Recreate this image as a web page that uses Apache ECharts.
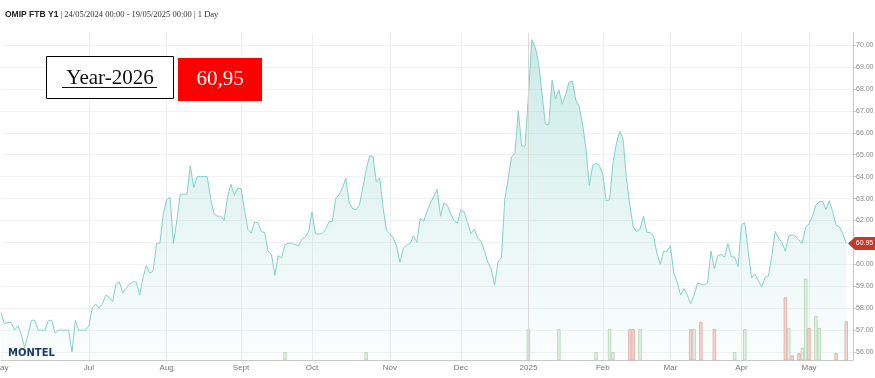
<!DOCTYPE html>
<html><head><meta charset="utf-8">
<script src="https://cdn.jsdelivr.net/npm/echarts@6/dist/echarts.min.js"></script>
<style>html,body{margin:0;padding:0;background:#fff}#c{width:875px;height:378px}</style>
</head><body><div id="c"></div>
<script>
// ---------- data ----------
const startDay = '2024-05-24';
const endDay = '2025-05-19';
const holidays = ['2024-12-25','2024-12-26','2025-01-01','2025-04-18','2025-04-21','2025-05-01'];

const prices = [
57.8,57.3,57.35,57.35,57.0,57.2,56.8,56.2,56.8,57.45,
57.45,57.0,57.0,57.0,57.45,57.45,56.87,57.0,57.0,57.0,
57.0,56.0,57.45,57.0,57.0,57.0,57.2,58.0,58.2,58.0,
58.2,58.6,58.5,58.3,59.1,59.2,58.7,58.9,59.1,59.2,
59.2,58.6,59.4,59.95,59.6,59.7,60.95,60.97,62.3,62.95,
63.05,60.95,62.0,63.2,63.2,63.2,64.5,63.5,64.0,64.0,
64.0,64.0,63.0,62.3,62.2,62.2,62.0,63.07,63.65,63.15,
63.48,63.45,62.5,61.6,61.43,61.93,61.9,61.5,61.45,60.6,
60.45,59.5,60.4,60.3,60.9,60.97,60.97,60.9,60.85,61.15,
61.24,61.5,62.4,61.4,61.38,61.4,61.6,61.95,61.97,63.0,
63.18,63.5,63.93,62.8,62.55,62.5,62.7,63.5,64.3,64.94,
64.94,63.75,63.95,62.6,61.56,61.4,61.2,60.85,60.1,60.74,
60.88,60.95,61.3,61.0,62.1,61.97,62.4,62.8,63.1,63.43,
62.2,62.8,62.7,62.3,62.0,61.88,62.5,62.38,61.9,61.4,
61.6,61.2,61.05,60.6,60.1,59.8,59.05,60.1,60.3,62.95,
63.9,64.9,65.08,67.0,65.4,65.39,67.7,70.25,69.9,69.2,
67.8,66.4,66.35,68.4,67.55,67.95,67.3,67.75,68.3,68.36,
67.5,67.2,66.4,65.3,63.6,64.5,64.6,64.5,64.1,62.9,
62.95,64.6,65.5,66.08,65.7,63.9,62.7,61.7,61.5,61.6,
62.2,61.47,61.45,61.3,60.5,60.0,60.6,60.6,60.85,59.6,
59.2,58.6,58.9,58.6,58.2,58.6,59.15,59.1,59.06,59.15,
60.6,59.8,60.4,60.45,60.33,60.95,60.35,60.33,59.9,61.8,
61.9,60.6,59.4,59.55,59.25,58.97,59.4,59.47,60.4,61.5,
61.2,61.0,60.6,61.3,61.35,61.29,61.1,60.97,61.7,61.85,
62.2,62.7,62.85,62.88,62.5,62.9,62.4,61.8,61.7,61.4,
60.95
];

const greenBarDates = ['2024-09-19','2024-10-23','2025-01-02','2025-01-15','2025-01-30','2025-02-05','2025-02-06','2025-02-18','2025-03-12','2025-03-28','2025-04-02','2025-04-23','2025-04-29','2025-04-30','2025-05-06','2025-05-07'];
const greenBarValues = [56.0,56.0,57.05,57.05,56.0,57.05,56.0,57.05,57.05,56.0,57.05,57.1,56.2,59.35,57.65,57.1];

const redBarDates = ['2025-02-13','2025-02-14','2025-03-11','2025-03-14','2025-03-20','2025-04-22','2025-04-24','2025-04-28','2025-05-02','2025-05-14','2025-05-19'];
const redBarValues = [57.05,57.05,57.05,57.38,57.05,58.5,55.85,55.95,57.1,55.95,57.4];

const monthTicks = [['2024-05','May'],['2024-07','Jul'],['2024-08','Aug'],['2024-09','Sept'],['2024-10','Oct'],['2024-11','Nov'],['2024-12','Dec'],['2025-01','2025'],['2025-02','Feb'],['2025-03','Mar'],['2025-04','Apr'],['2025-05','May']];
const yTicks = [56,57,58,59,60,61,62,63,64,65,66,67,68,69,70];
const yearLine = '2025-01-02';

const titleBold = 'OMIP FTB Y1';
const titleRest = ' | 24/05/2024 00:00 - 19/05/2025 00:00 | 1 Day';
const productLabel = 'Year-2026';
const priceLabel = '60,95';
const lastTag = '60.95';

// ---------- build ----------
function tradingDays() {
  const out = [];
  let t = Date.parse(startDay + 'T00:00:00Z');
  const end = Date.parse(endDay + 'T00:00:00Z');
  while (t <= end) {
    const d = new Date(t);
    const wd = d.getUTCDay();
    const s = d.toISOString().slice(0, 10);
    if (wd !== 0 && wd !== 6 && holidays.indexOf(s) < 0) out.push(s);
    t += 86400000;
  }
  return out;
}
const days = tradingDays();
const cats = days.concat(['', '']);
const labelAt = {};
monthTicks.forEach(([k, lab]) => {
  const i = days.findIndex(d => d.startsWith(k));
  if (i >= 0) labelAt[i] = lab;
});
function barSeriesData(dates, vals) {
  const arr = cats.map(() => null);
  dates.forEach((d, j) => { const i = days.indexOf(d); if (i >= 0) arr[i] = vals[j]; });
  return arr;
}

const chart = echarts.init(document.getElementById('c'), null, {renderer: 'canvas'});
const GRID = {left: 1, right: 22, top: 33, bottom: 18, outerBoundsMode: 'none', containLabel: false};
const option = {
  animation: false,
  backgroundColor: '#fff',
  grid: GRID,
  xAxis: {
    type: 'category', data: cats, boundaryGap: false,
    axisLine: {lineStyle: {color: '#c8c8c8'}},
    axisTick: {show: false},
    axisLabel: {
      interval: (i) => labelAt[i] !== undefined,
      formatter: (v, i) => labelAt[i] || '',
      color: '#777', fontSize: 8, fontFamily: 'Liberation Sans', margin: 4
    },
    splitLine: {show: true, interval: (i) => labelAt[i] !== undefined && i > 0, lineStyle: {color: '#eeeeee', width: 1}}
  },
  yAxis: {
    type: 'value', position: 'right', min: 55.64, max: 70.55, scale: true,
    axisLine: {show: true, lineStyle: {color: '#c8c8c8'}},
    axisTick: {show: true, length: 3, customValues: yTicks, lineStyle: {color: '#c8c8c8'}},
    axisLabel: {customValues: yTicks, formatter: (v) => Number(v).toFixed(2), color: '#888', fontSize: 7, fontFamily: 'Liberation Sans', margin: 3},
    splitLine: {show: true, lineStyle: {color: '#f2f2f2', width: 1}}
  },
  series: [
    {
      type: 'line', data: prices, symbol: 'none', z: 2,
      lineStyle: {color: '#82d2c8', width: 1},
      areaStyle: {color: new echarts.graphic.LinearGradient(0, 0, 0, 1, [
        {offset: 0, color: 'rgba(120,205,195,0.58)'},
        {offset: 1, color: 'rgba(150,215,210,0.06)'}
      ])},
      markLine: {silent: true, symbol: 'none', label: {show: false},
        lineStyle: {color: '#d8d8d8', width: 1, type: 'solid'},
        data: [{xAxis: yearLine}]}
    },
    {
      type: 'bar', data: barSeriesData(greenBarDates, greenBarValues), barWidth: 3.4, barGap: '-100%', z: 3,
      itemStyle: {color: 'rgba(215,233,213,0.7)', borderColor: 'rgba(170,210,170,0.9)', borderWidth: 0.8}
    },
    {
      type: 'bar', data: barSeriesData(redBarDates, redBarValues), barWidth: 3.4, barGap: '-100%', z: 3,
      itemStyle: {color: 'rgba(240,200,192,0.75)', borderColor: 'rgba(225,165,155,0.9)', borderWidth: 0.8}
    }
  ],
  graphic: [
    {type: 'text', left: 5, top: 10, style: {
      text: '{b|' + titleBold + '}{r|' + titleRest + '}',
      rich: {
        b: {fontFamily: 'Liberation Sans', fontWeight: 'bold', fontSize: 8.5, fill: '#222'},
        r: {fontFamily: 'Liberation Serif', fontSize: 8.5, fill: '#333'}
      }}},
    {type: 'rect', shape: {x: 46.5, y: 56.5, width: 127, height: 42}, style: {fill: '#fff', stroke: '#000', lineWidth: 1}, z: 10},
    {type: 'text', x: 110, y: 78, style: {text: productLabel, font: '21px "Liberation Serif"', fill: '#111', align: 'center', verticalAlign: 'middle'}, z: 11},
    {type: 'line', shape: {x1: 62, y1: 87.5, x2: 157, y2: 87.5}, style: {stroke: '#111', lineWidth: 1}, z: 11},
    {type: 'rect', shape: {x: 178, y: 58, width: 84, height: 43}, style: {fill: '#ff0000'}, z: 10},
    {type: 'text', x: 220, y: 79.5, style: {text: priceLabel, font: '21px "Liberation Serif"', fill: '#fff', align: 'center', verticalAlign: 'middle'}, z: 11},
    {type: 'text', left: 8, top: 348, style: {text: 'MONTEL', font: 'bold 10px "DejaVu Sans"', fill: '#1d3a6b'}, z: 11}
  ]
};
chart.setOption(option);

// last value tag at the right axis, positioned via the axis scale
const py = chart.convertToPixel({gridIndex: 0}, [prices.length - 1, prices[prices.length - 1]])[1];
const ax = 875 - GRID.right;
chart.setOption({graphic: option.graphic.concat([
  {type: 'polygon', shape: {points: [[ax - 5, py], [ax + 2, py - 6.5], [875, py - 6.5], [875, py + 6.5], [ax + 2, py + 6.5]]}, style: {fill: '#c53a26'}, z: 20},
  {type: 'text', x: ax + 11.5, y: py, style: {text: lastTag, font: '7px "Liberation Sans"', fill: '#fff', align: 'center', verticalAlign: 'middle'}, z: 21}
])});
</script>
</body></html>
